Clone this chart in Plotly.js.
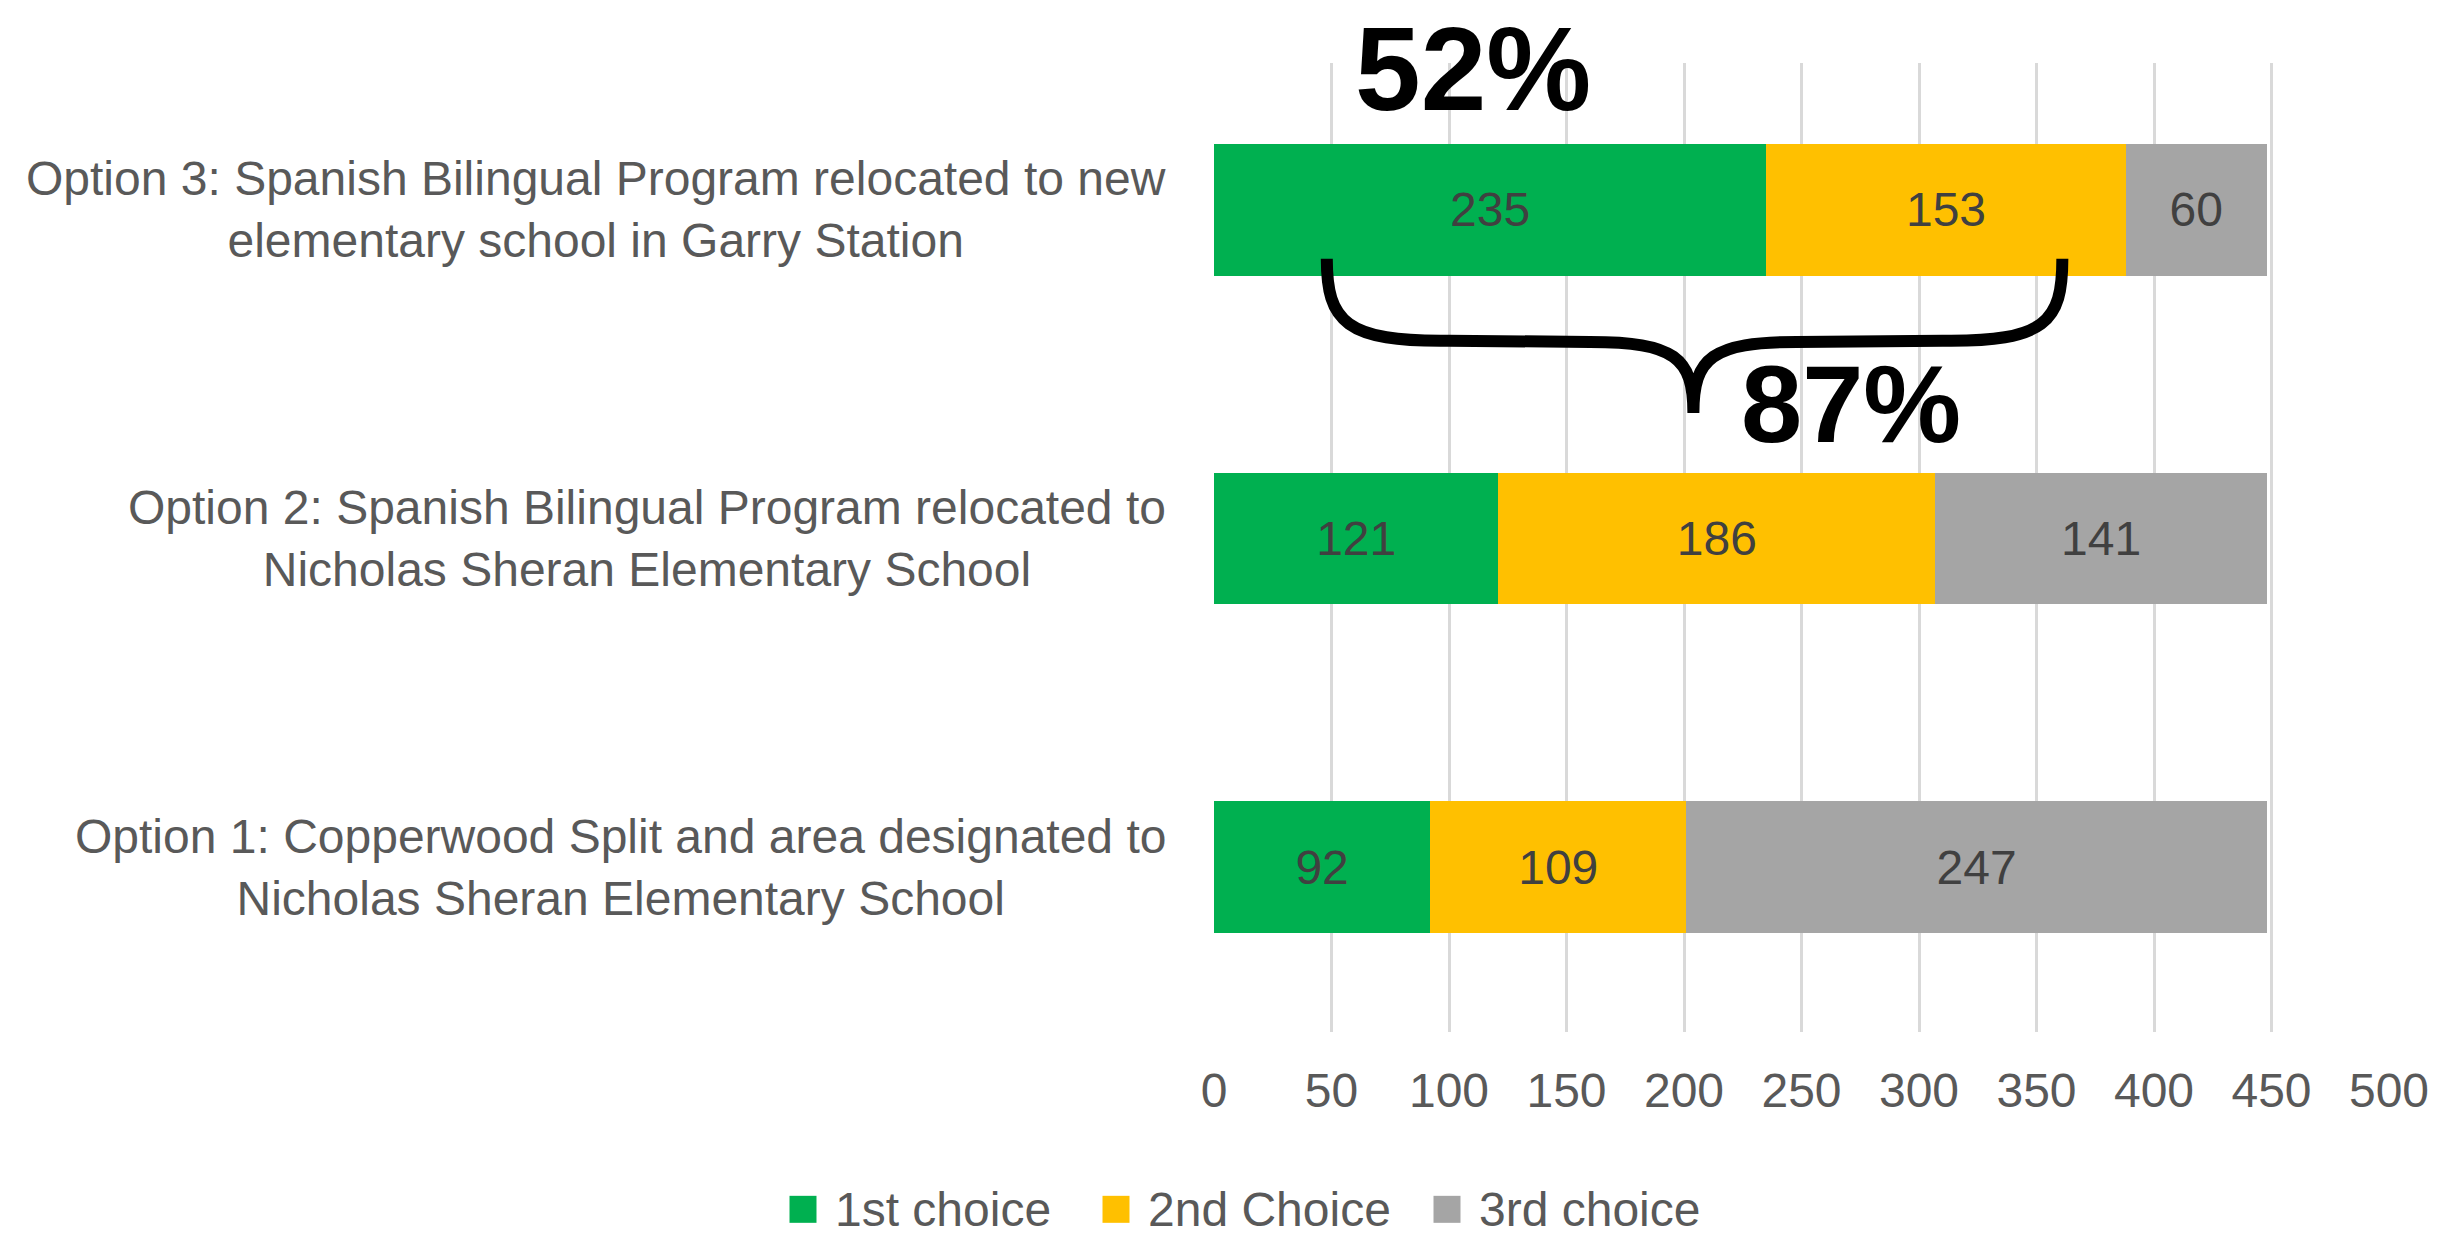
<!DOCTYPE html>
<html>
<head>
<meta charset="utf-8">
<script src="https://cdn.plot.ly/plotly-3.0.1.min.js"></script>
<style>html,body{margin:0;padding:0;background:#fff;}#chart{width:2455px;height:1236px;}</style>
</head>
<body>
<div id="chart"></div>
<script>
// ---- data ----
const categories = [
  "Option 1: Copperwood Split and area designated to<br>Nicholas Sheran Elementary School",
  "Option 2: Spanish Bilingual Program relocated to<br>Nicholas Sheran Elementary School",
  "Option 3: Spanish Bilingual Program relocated to new<br>elementary school in Garry Station"
];
const seriesNames = ["1st choice", "2nd Choice", "3rd choice"];
const firstChoice = [92, 121, 235];
const secondChoice = [109, 186, 153];
const thirdChoice = [247, 141, 60];
const xTicks = [0, 50, 100, 150, 200, 250, 300, 350, 400, 450, 500];
const calloutTop = "52%";
const calloutBrace = "87%";

const colors = ["#00B050", "#FFC000", "#A5A5A5"];
const FONT = "'Liberation Sans Narrow', 'Liberation Sans', Arial, sans-serif";
const idx = categories.map((c, i) => i);
const values = [firstChoice, secondChoice, thirdChoice];

const traces = values.map((v, k) => ({
  type: "bar",
  orientation: "h",
  name: seriesNames[k],
  x: v,
  y: idx,
  width: 0.4,
  marker: {color: colors[k]},
  text: v.map(String),
  textposition: "inside",
  insidetextanchor: "middle",
  textangle: 0,
  constraintext: "none",
  textfont: {family: FONT, size: 48, color: "#404040"},
  showlegend: false,
  hoverinfo: "skip"
}));

const annotations = categories.map((c, i) => ({
  xref: "paper", yref: "y",
  x: -0.039, y: i,
  xanchor: "right", yanchor: "middle",
  align: "center",
  text: c,
  showarrow: false,
  font: {family: FONT, size: 48, color: "#595959"}
}));

annotations.push({
  xref: "x", yref: "y", x: 110, y: 2.43,
  text: "<b>" + calloutTop + "</b>", showarrow: false,
  xanchor: "center", yanchor: "middle",
  font: {family: "'Liberation Sans', Arial, sans-serif", size: 118, color: "#000"}
});
annotations.push({
  xref: "x", yref: "y", x: 271, y: 1.41,
  text: "<b>" + calloutBrace + "</b>", showarrow: false,
  xanchor: "center", yanchor: "middle",
  font: {family: "'Liberation Sans', Arial, sans-serif", size: 110, color: "#000"}
});

// manual legend (big square swatches)
const legendPx = [803, 1116, 1447];
const plotL = 1214, plotW = 1175;
const shapes = [];
seriesNames.forEach((n, k) => {
  const cx = (legendPx[k] - plotL) / plotW;
  const hw = 13.5 / plotW;
  shapes.push({
    type: "rect", xref: "paper", yref: "paper",
    x0: cx - hw, x1: cx + hw,
    y0: -0.183 - 13.5 / 969, y1: -0.183 + 13.5 / 969,
    fillcolor: colors[k], line: {width: 0}
  });
  annotations.push({
    xref: "paper", yref: "paper",
    x: cx + 30 / plotW, y: -0.183,
    xanchor: "left", yanchor: "middle",
    text: n, showarrow: false,
    font: {family: FONT, size: 48, color: "#595959"}
  });
});

// brace
shapes.push({
  type: "path", xref: "x", yref: "y",
  path: "M 48,1.851 C 48,1.66 56,1.598 100,1.602 L 160,1.598 C 196,1.598 204,1.55 204,1.382 C 204,1.55 212,1.598 248,1.598 L 310,1.602 C 354,1.598 361,1.66 361,1.851",
  line: {color: "#000", width: 12}
});

const layout = {
  width: 2455, height: 1236,
  margin: {l: 1214, r: 66, t: 63, b: 204},
  paper_bgcolor: "#fff", plot_bgcolor: "#fff",
  barmode: "stack",
  hovermode: false,
  showlegend: false,
  xaxis: {
    range: [0, 500],
    tickvals: xTicks,
    ticktext: xTicks.map(String),
    showgrid: true, gridcolor: "#D9D9D9", gridwidth: 3,
    zeroline: false, showline: false, ticks: "",
    ticklabelstandoff: 26,
    tickfont: {family: FONT, size: 48, color: "#595959"},
    fixedrange: true
  },
  yaxis: {
    range: [-0.502, 2.447],
    showticklabels: false, showgrid: false, zeroline: false, showline: false, ticks: "",
    fixedrange: true
  },
  annotations: annotations,
  shapes: shapes
};

Plotly.newPlot("chart", traces, layout, {displayModeBar: false, staticPlot: true});
</script>
</body>
</html>
